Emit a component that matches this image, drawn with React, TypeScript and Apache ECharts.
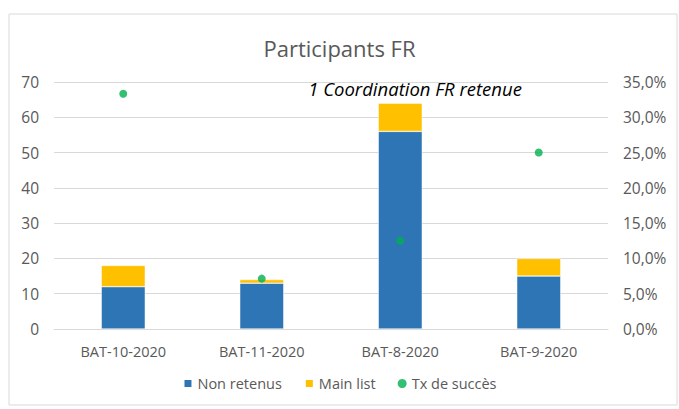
import React, { useEffect, useRef } from "react";
import * as echarts from "echarts";

const categories = ["BAT-10-2020", "BAT-11-2020", "BAT-8-2020", "BAT-9-2020"];
const nonRetenus = [12, 13, 56, 15];
const mainList = [6, 1, 8, 5];
const txSucces = [0.3333, 0.0714, 0.125, 0.25];
const leftTicks = { min: 0, max: 70, interval: 10 };
const rightTicks = { min: 0, max: 0.35, interval: 0.05 };
const annotation = "1 Coordination FR retenue";

const FONT = "'Open Sans', 'Noto Sans', sans-serif";
const GREY = "#595959";

export default function App() {
  const ref = useRef<HTMLDivElement>(null);
  useEffect(() => {
    if (!ref.current) return;
    const chart = echarts.init(ref.current, undefined, { renderer: "svg" });
    chart.setOption({
      animation: false,
      backgroundColor: "#ffffff",
      title: {
        text: "Participants FR",
        left: "center",
        top: 32,
        textStyle: { fontFamily: FONT, fontSize: 22, fontWeight: "normal", color: GREY },
      },
      grid: { left: 54, right: 71, top: 82, bottom: 80 },
      legend: {
        bottom: 13,
        left: "center",
        itemWidth: 9,
        itemHeight: 9,
        itemGap: 22,
        textStyle: { fontFamily: FONT, fontSize: 14.5, color: GREY },
        data: [
          { name: "Non retenus", icon: "rect" },
          { name: "Main list", icon: "rect" },
          { name: "Tx de succès", icon: "circle" },
        ],
      },
      xAxis: {
        type: "category",
        data: categories,
        axisLine: { lineStyle: { color: "#D9D9D9" } },
        axisTick: { show: false },
        axisLabel: { fontFamily: FONT, fontSize: 14.5, color: GREY, margin: 15 },
      },
      yAxis: [
        {
          type: "value",
          min: leftTicks.min,
          max: leftTicks.max,
          interval: leftTicks.interval,
          axisLine: { show: false },
          axisTick: { show: false },
          splitLine: { lineStyle: { color: "#D9D9D9" } },
          axisLabel: { fontFamily: FONT, fontSize: 15.5, color: GREY, margin: 15 },
        },
        {
          type: "value",
          min: rightTicks.min,
          max: rightTicks.max,
          interval: rightTicks.interval,
          axisLine: { show: false },
          axisTick: { show: false },
          splitLine: { show: false },
          axisLabel: {
            fontFamily: FONT,
            fontSize: 15.5,
            color: GREY,
            margin: 15,
            formatter: (v: number) => (v * 100).toFixed(1).replace(".", ",") + "%",
          },
        },
      ],
      series: [
        {
          name: "Non retenus",
          type: "bar",
          stack: "total",
          data: nonRetenus,
          barWidth: 44,
          itemStyle: { color: "#2E75B6", borderColor: "#ffffff", borderWidth: 0.5 },
        },
        {
          name: "Main list",
          type: "bar",
          stack: "total",
          data: mainList,
          barWidth: 44,
          itemStyle: { color: "#FFC000", borderColor: "#ffffff", borderWidth: 0.5 },
        },
        {
          name: "Tx de succès",
          type: "scatter",
          yAxisIndex: 1,
          data: txSucces,
          symbol: "circle",
          symbolSize: 8,
          itemStyle: { color: "#00B050" },
          z: 5,
        },
      ],
      graphic: [
        {
          type: "rect",
          shape: { x: 9, y: 14, width: 668, height: 391 },
          style: { fill: "none", stroke: "#D9D9D9", lineWidth: 1 },
          silent: true,
        },
        {
          type: "text",
          x: 415,
          y: 88,
          style: {
            text: annotation,
            fontFamily: FONT,
            fontStyle: "italic",
            fontSize: 18.5,
            fill: "#000000",
            align: "center",
            verticalAlign: "middle",
          },
        },
      ],
    });
    return () => chart.dispose();
  }, []);
  return (
    <div
      ref={ref}
      style={{ position: "fixed", left: 0, top: 0, width: 679, height: 409 }}
    />
  );
}
